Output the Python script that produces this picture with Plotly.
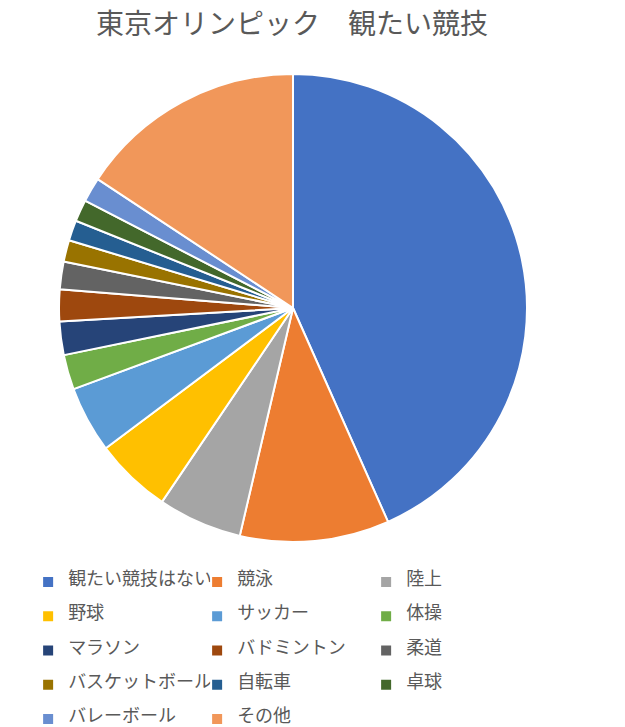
import plotly.graph_objects as go

labels = ["観たい競技はない", "競泳", "陸上", "野球", "サッカー", "体操", "マラソン",
          "バドミントン", "柔道", "バスケットボール", "自転車", "卓球", "バレーボール", "その他"]
values = [43.3, 10.3, 5.8, 5.3, 4.6, 2.4, 2.3, 2.2, 1.9, 1.5, 1.4, 1.5, 1.7, 15.7]
colors = ["#4472C4", "#ED7D31", "#A5A5A5", "#FFC000", "#5B9BD5", "#70AD47", "#264478",
          "#9E480E", "#636363", "#997300", "#255E91", "#43682B", "#698ED0", "#F1975A"]

W, H = 625, 727
cx, cy, r = 293, 308, 234

# legend labels padded with empty lines to reproduce the taller legend rows
legend_labels = [' <br><span style="font-size:18px">%s</span><br> ' % s for s in labels]

fig = go.Figure(go.Pie(
    labels=legend_labels, values=values, sort=False, direction="clockwise", rotation=0,
    customdata=labels,
    marker=dict(colors=colors, line=dict(color="white", width=2)),
    textinfo="none", hovertemplate="%{customdata}: %{percent}<extra></extra>",
    domain=dict(x=[(cx - r) / W, (cx + r) / W], y=[1 - (cy + r) / H, 1 - (cy - r) / H]),
))

fig.update_layout(
    width=W, height=H,
    margin=dict(l=0, r=0, t=0, b=0, autoexpand=False),
    paper_bgcolor="white",
    font=dict(family="Noto Sans CJK JP", color="#595959"),
    title=dict(text="東京オリンピック　観たい競技", x=292 / W, xanchor="center",
               y=1 - 24 / H, yanchor="middle",
               font=dict(size=28, color="#595959", family="Noto Sans CJK JP")),
    showlegend=True,
    legend=dict(orientation="h",
                x=0.045, xanchor="left", y=1 - 560 / H, yanchor="top",
                entrywidth=124, entrywidthmode="pixels",
                font=dict(size=8, color="#595959"), itemwidth=30,
                traceorder="normal", tracegroupgap=0),
)

fig.write_html("out.html", config={"displayModeBar": False},
               post_script="document.body.style.margin='0';")
